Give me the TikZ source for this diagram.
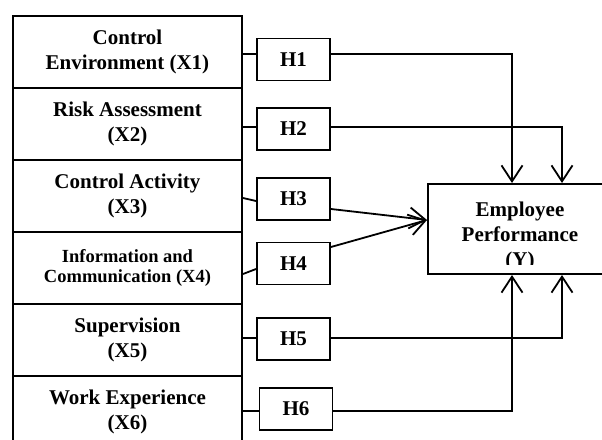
\documentclass[tikz,border=0pt]{standalone}
\usepackage{fontspec}
\setmainfont{Liberation Serif}
\usetikzlibrary{positioning,calc,arrows.meta}
\tikzset{font=\bfseries\fontsize{21}{25}\selectfont}
\tikzset{
	varbox/.style={draw, line width=2pt, minimum width=229pt, minimum height=72pt, align=center, inner sep=1pt},
	hypbox/.style={draw, line width=1.9pt, minimum width=73pt, minimum height=42pt, inner sep=1pt},
	link/.style={line width=1.8pt},
	arr/.style={line width=1.8pt, -{Straight Barb[length=16pt,width=21pt,line width=1.8pt]}}
}

\begin{document}
\begin{tikzpicture}[x=1pt, y=-1pt]
	\useasboundingbox (0,0) rectangle (602,439);
	\begin{scope}
		% variables
		\node[varbox] (x1) at (127.5, 52) {Control \\ Environment (X1)};
		\node[varbox] (x2) at (127.5, 124) {Risk Assessment \\ (X2)};
		\node[varbox] (x3) at (127.5, 196) {Control Activity \\ (X3)};
		\node[varbox, font=\bfseries\fontsize{18.5}{20}\selectfont] (x4) at (127.5, 268) {Information and \\ Communication (X4)};
		\node[varbox] (x5) at (127.5, 340) {Supervision \\ (X5)};
		\node[varbox] (x6) at (127.5, 412) {Work Experience \\ (X6)};

		% hypotheses
		\node[hypbox] (h1) at (293.5, 59.5) {H1};
		\node[hypbox] (h2) at (293.5, 129) {H2};
		\node[hypbox] (h3) at (293.5, 199) {H3};
		\node[hypbox] (h4) at (293.5, 263.5) {H4};
		\node[hypbox] (h5) at (293.5, 339) {H5};
		\node[hypbox] (h6) at (296, 409) {H6};

		\node[draw, line width=2pt, minimum width=184pt, minimum height=90pt] (y) at (520, 229) {};
		\begin{scope}
			\clip (y.north west) rectangle ($(y.south east)+(0,-11)$);
			\node[align=center, inner sep=0pt] (ytext) at (520, 236) {Employee \\ Performance \\ (Y)};
		\end{scope}

		\coordinate (a1) at ($(h1.west)+(0,-5.5)$);
		\coordinate (a2) at ($(h2.west)+(0,-2)$);
		\coordinate (a5) at ($(h5.west)+(0,-1)$);
		\coordinate (a6) at ($(h6.west)+(0,2)$);

		\draw[link](x1.east |- a1) -- (a1);
		\draw[link](x2.east |- a2) -- (a2);
		\draw[link]($(x3.east)+(0,2)$) -- ($(h3.west)+(0,2)$);
		\draw[link]($(x4.east)+(0,6)$) -- ($(h4.west)+(0,5.5)$);
		\draw[link](x5.east |- a5) -- (a5);
		\draw[link](x6.east |- a6) -- (a6);

		\draw[arr]($(h1.east)+(0,-5.5)$) -| ($(y.north)+(-8,0)$);
		\draw[arr]($(h2.east)+(0,-2)$) -| ($(y.north)+(42,0)$);
		\draw[arr]($(h3.east)+(0,10)$) -- ($(y.west)+(0,-9)$);
		\draw[arr]($(h4.east)+(0,-16.5)$) -- ($(y.west)+(0,-9)$);
		\draw[arr]($(h5.east)+(0,-1)$) -| ($(y.south)+(42,0)$);
		\draw[arr]($(h6.east)+(0,2)$) -| ($(y.south)+(-8,0)$);
	\end{scope}
\end{tikzpicture}
\end{document}
